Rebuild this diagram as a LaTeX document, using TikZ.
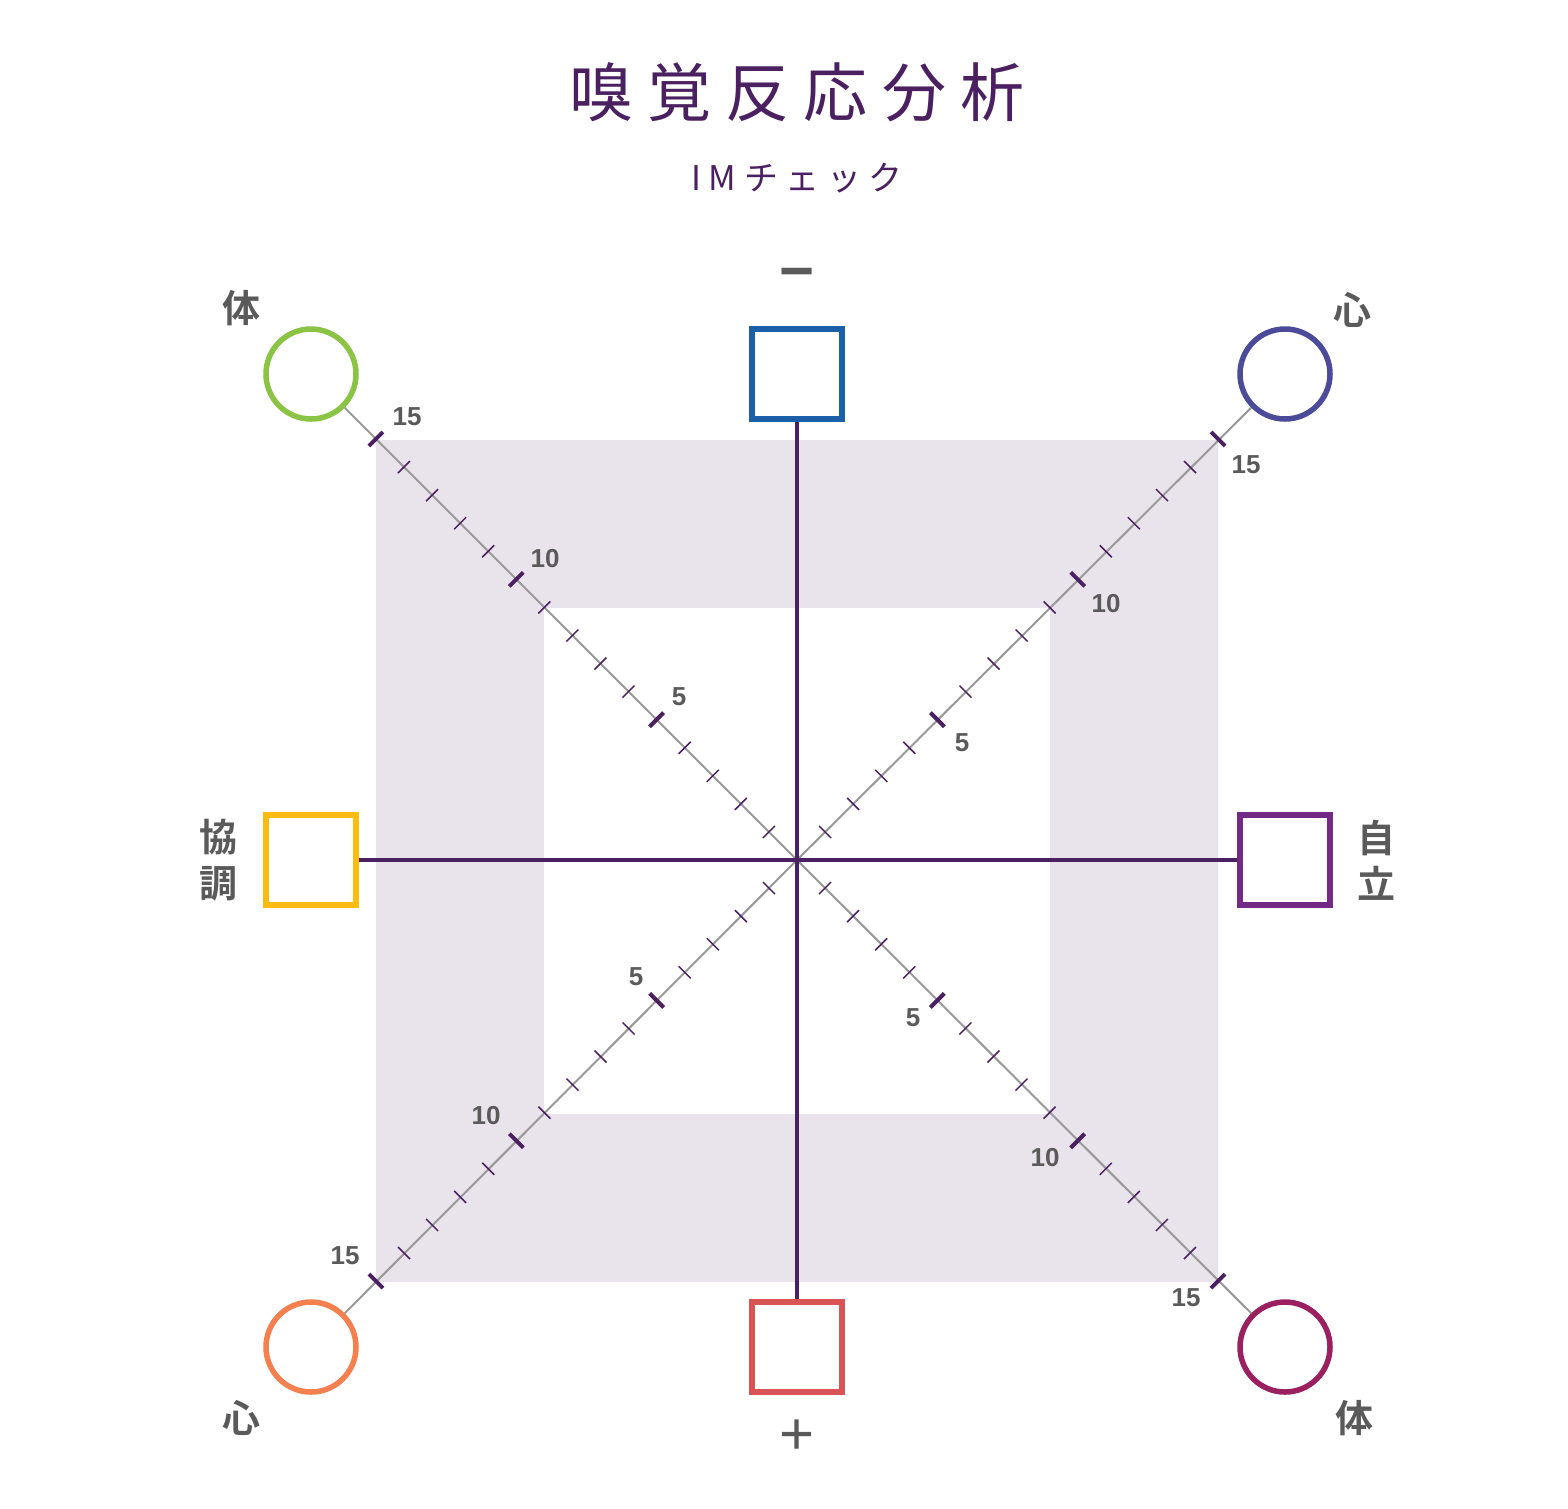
\documentclass[tikz,border=0pt]{standalone}
\usepackage{fontspec}
\setmainfont{Liberation Sans}
\newfontfamily\cjk{Noto Sans CJK JP}
\newfontfamily\cjkt[LetterSpace=22]{Noto Sans CJK JP}
\newfontfamily\cjkb[LetterSpace=0]{Noto Sans CJK JP Bold}
\begin{document}
\begin{tikzpicture}[x=1pt,y=-1pt,
  axis/.style={draw=axisc,line width=4.5pt},
  diag/.style={draw=gray!80,line width=2pt},
  minort/.style={draw=axisc,line width=1.5pt},
  majort/.style={draw=axisc,line width=4pt},
  sq/.style={draw,line width=5.5pt,minimum size=90pt,inner sep=0pt},
  circ/.style={draw,circle,line width=5.5pt,minimum size=90pt,inner sep=0pt},
  lab/.style={text=labc,font=\cjkb\fontsize{38}{44}\selectfont},
  num/.style={text=labc,font=\bfseries\fontsize{26}{28}\selectfont}]
\definecolor{axisc}{HTML}{4A2060}
\definecolor{labc}{HTML}{5A5A5A}
\definecolor{bandc}{HTML}{E9E4EC}
\useasboundingbox (0,0) rectangle (1568,1508);
\fill[bandc] (376,440) rectangle (1218,1282);
\fill[white] (544,608) rectangle (1050,1114);
\coordinate (c) at (797,860);
\node[sq,draw={rgb,255:red,26;green,95;blue,168}] (top) at (797,374) {};
\node[sq,draw={rgb,255:red,251;green,187;blue,16}] (left) at (311,860) {};
\node[sq,draw={rgb,255:red,114;green,42;blue,133}] (right) at (1285,860) {};
\node[sq,draw={rgb,255:red,217;green,85;blue,85}] (bot) at (797,1347) {};
\node[circ,draw={rgb,255:red,139;green,195;blue,68}] (tl) at (311,374) {};
\node[circ,draw={rgb,255:red,75;green,75;blue,154}] (tr) at (1285,374) {};
\node[circ,draw={rgb,255:red,244;green,128;blue,79}] (bl) at (311,1347) {};
\node[circ,draw={rgb,255:red,155;green,32;blue,96}] (br) at (1285,1347) {};
\foreach \n in {tl,tr,bl,br} \draw[diag] (\n) -- (c);
\draw[axis] (top.south) -- (bot.north);
\draw[axis] (left.east) -- (right.west);
\foreach \sx/\sy in {-1/-1,1/-1,-1/1,1/1}{
  \foreach \i in {1,...,15}{
    \pgfmathsetmacro{\px}{797+\sx*\i*28.07}
    \pgfmathsetmacro{\py}{860+\sy*\i*28.07}
    \pgfmathsetmacro{\ok}{mod(\i,5)==0 ? 1 : 0}
    \ifdim\ok pt>0.5pt
      \draw[majort] (\px-\sy*7,\py+\sx*7) -- (\px+\sy*7,\py-\sx*7);
    \else
      \draw[minort] (\px-\sy*6,\py+\sx*6) -- (\px+\sy*6,\py-\sx*6);
    \fi
  }
}
% numbers
\node[num] (n1) at (407,417) {15};
\node[num] (n2) at (545,559) {10};
\node[num] (n3) at (679,697) {5};
\node[num] (n4) at (1246,465) {15};
\node[num] (n5) at (1106,604) {10};
\node[num] (n6) at (962,743) {5};
\node[num] (n7) at (636,977) {5};
\node[num] (n8) at (486,1116) {10};
\node[num] (n9) at (345,1256) {15};
\node[num] (n10) at (913,1018) {5};
\node[num] (n11) at (1045,1158) {10};
\node[num] (n12) at (1186,1298) {15};
% labels
\node[lab] (l1) at (241,308) {体};
\node[lab] (l2) at (1352,310) {心};
\node[lab] (l3) at (241,1418) {心};
\node[lab] (l4) at (1354,1418) {体};
\node[text=labc,font=\bfseries\fontsize{60}{60}\selectfont] (minus) at (797,280) {−};
\node[text=labc,font=\fontsize{60}{60}\selectfont] (plus) at (797,1437) {+};
\node[lab,align=center] (l5) at (218,860) {協\\[2pt]調};
\node[lab,align=center] (l6) at (1376,860) {自\\[2pt]立};
\node[text=axisc,font=\cjkt\fontsize{64}{64}\selectfont] (title) at (797,92) {嗅覚反応分析};
\node[text=axisc,font=\cjkt\fontsize{34}{36}\selectfont] (sub) at (797,178) {IMチェック};
\end{tikzpicture}
\end{document}
